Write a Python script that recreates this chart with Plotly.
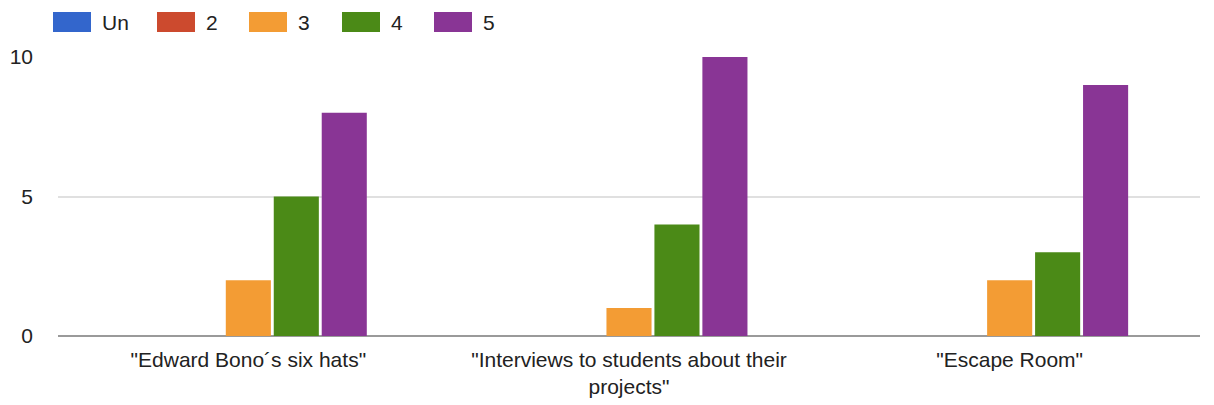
import plotly.graph_objects as go

categories = ['"Edward Bono´s six hats"',
              '"Interviews to students about their<br>projects"',
              '"Escape Room"']
series_names = ["Un", "2", "3", "4", "5"]
values_un = [0, 0, 0]
values_2 = [0, 0, 0]
values_3 = [2, 1, 2]
values_4 = [5, 4, 3]
values_5 = [8, 10, 9]
colors = ["#3366cc", "#cc4a2e", "#f39c34", "#4b8a17", "#893595"]

# page has an 8px body margin, so the figure is sized to fit the window
W, H = 1206, 397
ML, MR, MT, MB = 50, 14, 49, 69
PW, PH = W - ML - MR, H - MT - MB
PLOT_LEFT, PLOT_BOTTOM = 8 + ML, 8 + MT + PH
FONT = "Liberation Sans, Arial, sans-serif"


def px(x):
    return (x - PLOT_LEFT) / PW


def py(y):
    return (PLOT_BOTTOM - y) / PH


fig = go.Figure()
for name, vals, col in zip(series_names, [values_un, values_2, values_3, values_4, values_5], colors):
    fig.add_trace(go.Bar(x=categories, y=vals, name=name, marker_color=col,
                         marker_line_width=0, showlegend=False))

# custom legend (wide colour swatches like the reference)
legend_x = [53, 157, 249, 342, 434]
for lx, name, col in zip(legend_x, series_names, colors):
    fig.add_shape(type="rect", xref="paper", yref="paper",
                  x0=px(lx), x1=px(lx + 38), y0=py(32), y1=py(12),
                  fillcolor=col, line_width=0, layer="above")
    fig.add_annotation(xref="paper", yref="paper",
                       x=px(lx + 47), y=py(22),
                       xanchor="left", yanchor="middle", text=name, showarrow=False,
                       font=dict(family=FONT, size=21, color="#222222"))

fig.update_layout(
    width=W, height=H,
    margin=dict(l=ML, r=MR, t=MT, b=MB, autoexpand=False),
    paper_bgcolor="white", plot_bgcolor="white",
    font=dict(family=FONT, size=21, color="#222222"),
    barmode="group", bargap=0.37, bargroupgap=0.06,
    showlegend=False,
)
fig.update_yaxes(range=[0, 10], tickvals=[0, 5, 10], showgrid=True, gridcolor="#e0e0e0",
                 gridwidth=1.5, zeroline=True, zerolinecolor="#9a9a9a", zerolinewidth=2,
                 ticks="", ticklabelstandoff=24, showline=False, automargin=False)
fig.update_xaxes(showgrid=False, ticks="", showline=False, automargin=False,
                 ticklabelstandoff=9)

fig.write_html("out.html")
